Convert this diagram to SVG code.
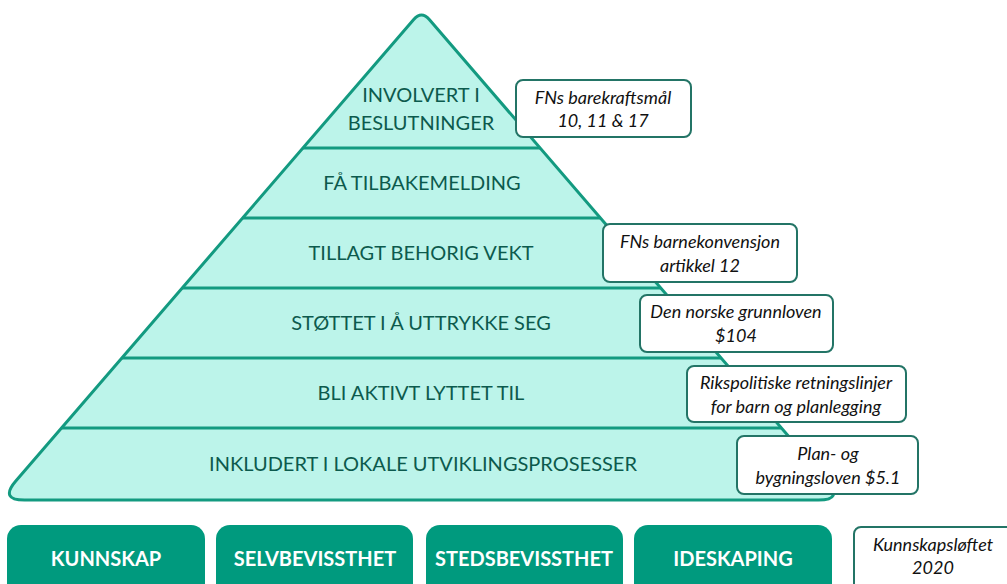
<svg xmlns="http://www.w3.org/2000/svg" width="1007" height="584" viewBox="0 0 1007 584">
<style>
.pyr{fill:#bcf4ea;stroke:#139a80;stroke-width:3;stroke-linejoin:round}
.band{stroke:#139a80;stroke-width:3;fill:none}
.lvl{font-family:Lato,"Liberation Sans",sans-serif;font-size:20px;fill:#0c5a4d;text-anchor:middle}
.note rect{fill:#fff;stroke:#237466;stroke-width:2}
.note text{font-family:Lato,"Liberation Sans",sans-serif;font-style:italic;font-size:18px;fill:#111;text-anchor:middle}
.btn rect{fill:#009a7e}
.btn text{font-family:Lato,"Liberation Sans",sans-serif;font-weight:bold;font-size:20px;fill:#fff;text-anchor:middle}
</style>
<rect width="1007" height="584" fill="#fff"/>
<g id="pyramid">
<path class="pyr" d="M413.7,19.5 Q421.5,10.4 429.3,19.5 L827.2,481.1 Q843.5,500 818.5,500 L24.5,500 Q-0.5,500 15.8,481.1 Z"/>
</g>
<g id="connectors">
<line class="band" x1="302.9" y1="148" x2="540.1" y2="148"/>
<line class="band" x1="242.6" y1="218" x2="600.4" y2="218"/>
<line class="band" x1="182.2" y1="288" x2="660.8" y2="288"/>
<line class="band" x1="121.9" y1="358" x2="721.1" y2="358"/>
<line class="band" x1="61.6" y1="428" x2="781.4" y2="428"/>
</g>
<g id="level-involvert"><text class="lvl" x="421" y="102">INVOLVERT I</text><text class="lvl" x="421" y="130">BESLUTNINGER</text></g>
<g id="level-tilbakemelding"><text class="lvl" x="422" y="190">FÅ TILBAKEMELDING</text></g>
<g id="level-vekt"><text class="lvl" x="421" y="260">TILLAGT BEHORIG VEKT</text></g>
<g id="level-stottet"><text class="lvl" x="421" y="330">STØTTET I Å UTTRYKKE SEG</text></g>
<g id="level-lyttet"><text class="lvl" x="421" y="400">BLI AKTIVT LYTTET TIL</text></g>
<g id="level-inkludert"><text class="lvl" x="423" y="471">INKLUDERT I LOKALE UTVIKLINGSPROSESSER</text></g>
<g id="note-fns-mal" class="note"><rect x="516" y="80" width="175" height="57" rx="7"/><text x="603" y="104">FNs barekraftsmål</text><text x="603" y="127">10, 11 &amp; 17</text></g>
<g id="note-barnekonvensjon" class="note"><rect x="603" y="224" width="194" height="58" rx="7"/><text x="700" y="248">FNs barnekonvensjon</text><text x="700" y="272">artikkel 12</text></g>
<g id="note-grunnloven" class="note"><rect x="640" y="295" width="193" height="57" rx="7"/><text x="736" y="318">Den norske grunnloven</text><text x="736" y="342">$104</text></g>
<g id="note-rikspolitiske" class="note"><rect x="687" y="366" width="219" height="56" rx="7"/><text x="796" y="389">Rikspolitiske retningslinjer</text><text x="796" y="413">for barn og planlegging</text></g>
<g id="note-plan" class="note"><rect x="737" y="436" width="181" height="58" rx="7"/><text x="828" y="460">Plan- og</text><text x="828" y="484">bygningsloven $5.1</text></g>
<g id="note-kunnskapsloftet" class="note"><rect x="854" y="527" width="160" height="70" rx="7"/><text x="933" y="551">Kunnskapsløftet</text><text x="933" y="574">2020</text></g>
<g id="btn-kunnskap" class="btn"><rect x="7" y="525" width="198" height="75" rx="14"/><text x="106" y="566">KUNNSKAP</text></g>
<g id="btn-selvbevissthet" class="btn"><rect x="216" y="525" width="197" height="75" rx="14"/><text x="315" y="566">SELVBEVISSTHET</text></g>
<g id="btn-stedsbevissthet" class="btn"><rect x="426" y="525" width="197" height="75" rx="14"/><text x="524" y="566">STEDSBEVISSTHET</text></g>
<g id="btn-ideskaping" class="btn"><rect x="634" y="525" width="198" height="75" rx="14"/><text x="733" y="566">IDESKAPING</text></g>
</svg>
